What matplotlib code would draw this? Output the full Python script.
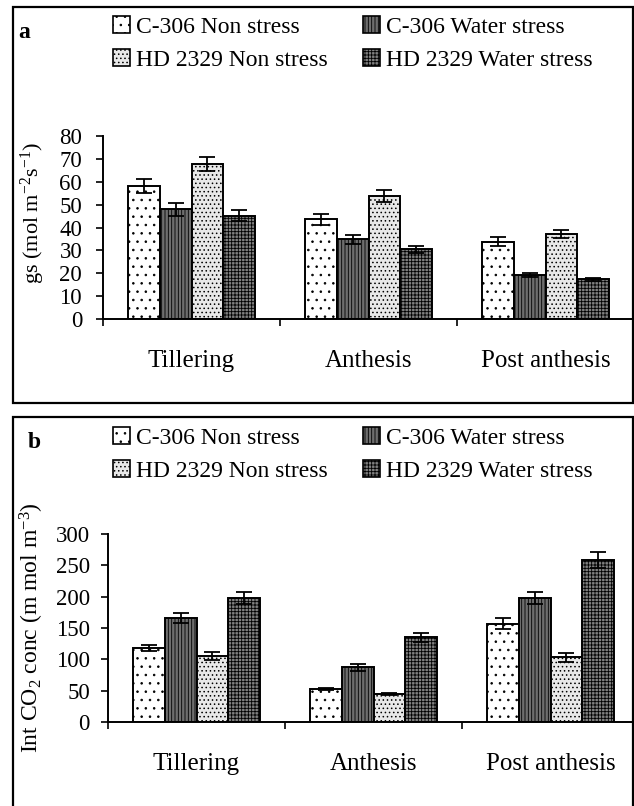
import numpy as np
import matplotlib
matplotlib.use("Agg")
import matplotlib.pyplot as plt
from matplotlib.patches import Patch, Rectangle

plt.rcParams['font.family'] = ['Liberation Serif', 'DejaVu Serif']
plt.rcParams['mathtext.fontset'] = 'custom'
plt.rcParams['mathtext.rm'] = 'Liberation Serif'
plt.rcParams['mathtext.it'] = 'Liberation Serif:italic'
plt.rcParams['hatch.linewidth'] = 0.6

# data
stages = ['Tillering', 'Anthesis', 'Post anthesis']
series = ['C-306 Non stress', 'C-306 Water stress',
          'HD 2329 Non stress', 'HD 2329 Water stress']

gs_vals = [[58.2, 43.5, 33.8],
           [47.9, 34.8, 19.1],
           [67.8, 53.7, 37.2],
           [45.2, 30.4, 17.3]]
gs_err = [[3.1, 2.2, 2.0],
          [2.7, 1.9, 0.8],
          [3.1, 2.7, 1.8],
          [2.3, 1.4, 0.7]]

co2_vals = [[118, 53, 157],
            [166, 87, 198],
            [106, 45, 103],
            [198, 135, 259]]
co2_err = [[4.5, 1.5, 8.5],
           [8.5, 5.0, 10.0],
           [6.5, 2.0, 6.7],
           [10.0, 7.0, 13.0]]

# look of each series: face colour, hatch
styles = [('white', '..'),
          ('#6e6e6e', '|||||'),
          ('#e8e8e8', '....'),
          ('#808080', '+++++')]

W, H = 634, 806
fig = plt.figure(figsize=(W / 100, H / 100), dpi=100)


def px_axes(left, top, right, bottom):
    return fig.add_axes([left / W, 1 - bottom / H, (right - left) / W, (bottom - top) / H])


def draw_panel(ax, vals, errs, ymax, ystep, ylabel, ypad, lsize):
    x = np.arange(len(stages))
    bw = 0.18
    for i, (v, e) in enumerate(zip(vals, errs)):
        fc, hatch = styles[i]
        ax.bar(x + (i - 1.5) * bw, v, bw, color=fc, edgecolor='black',
               hatch=hatch, linewidth=1.4, zorder=2)
        ax.errorbar(x + (i - 1.5) * bw, v, yerr=e, fmt='none', ecolor='black',
                    elinewidth=1.3, capsize=6, capthick=1.3, zorder=3)
    ax.set_xlim(-0.5, 2.5)
    ax.set_ylim(0, ymax)
    ax.set_yticks(np.arange(0, ymax + 1, ystep))
    ax.set_xticks(x)
    ax.set_xticklabels(stages, fontsize=18)
    ax.set_xticks([-0.5, 0.5, 1.5, 2.5], minor=True)
    ax.tick_params(axis='x', which='major', length=0, pad=22)
    ax.tick_params(axis='x', which='minor', length=5, width=1.2, direction='out')
    ax.tick_params(axis='y', length=5, width=1.2, labelsize=16.5, pad=ypad)
    for s in ['top', 'right']:
        ax.spines[s].set_visible(False)
    for s in ['left', 'bottom']:
        ax.spines[s].set_linewidth(1.4)
    ax.set_ylabel(ylabel, fontsize=lsize)
    ax.yaxis.label.set_verticalalignment('center')
    ax.patch.set_alpha(0)


def legend_handles():
    hs = []
    for (fc, hatch), lab in zip(styles, series):
        hs.append(Patch(facecolor=fc, edgecolor='black', hatch=hatch, linewidth=1.2, label=lab))
    # column-wise fill: col 1 = Non stress, col 2 = Water stress
    return [hs[0], hs[2], hs[1], hs[3]]


# panel a
axa = px_axes(103, 136, 634, 319)
draw_panel(axa, gs_vals, gs_err, 80, 10, r'gs (mol m$^{-2}$s$^{-1}$)', 10, 16)
axa.yaxis.set_label_coords(-70 / 531, 0.58)

# panel b
axb = px_axes(108, 534, 639, 722)
draw_panel(axb, co2_vals, co2_err, 300, 50, r'Int CO$_2$ conc (m mol m$^{-3}$)', 8, 17)
axb.yaxis.set_label_coords(-76 / 531, 0.5)

# frames around the panels
fig.add_artist(Rectangle((13 / W, 1 - 403 / H), 620 / W, 396 / H, transform=fig.transFigure,
                         fill=False, edgecolor='black', linewidth=1.6))
fig.add_artist(Rectangle((13 / W, -0.05), 620 / W, 1 - 417 / H + 0.05, transform=fig.transFigure,
                         fill=False, edgecolor='black', linewidth=1.6))

# panel letters
fig.text(18 / W, 1 - 32 / H, 'a', fontsize=17, fontweight='bold', va='center')
fig.text(28 / W, 1 - 443 / H, 'b', fontsize=17, fontweight='bold', va='center')

# legends
for top in (16, 427):
    fig.legend(handles=legend_handles(), loc='upper left',
               bbox_to_anchor=(113 / W, 1 - top / H), ncol=2, frameon=False,
               fontsize=17, handlelength=0.72, handleheight=0.72, handletextpad=0.25,
               columnspacing=1.48, labelspacing=0.48, borderpad=0, borderaxespad=0)

fig.savefig('out.png', dpi=100)
